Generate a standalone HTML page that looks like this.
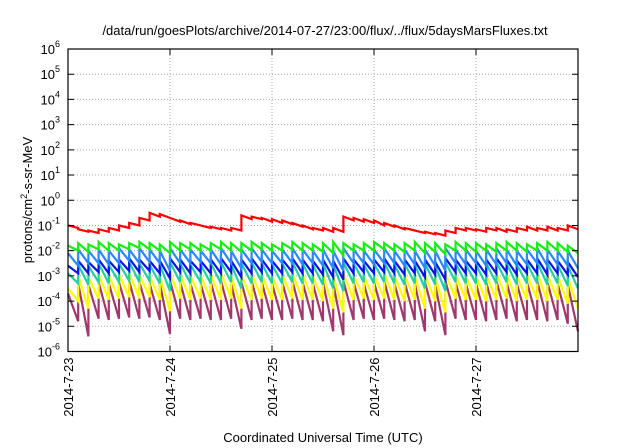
<!DOCTYPE html>
<html><head><meta charset="utf-8"><style>
body{margin:0;background:#fff;width:640px;height:448px;overflow:hidden}
svg{display:block;font-family:"Liberation Sans",sans-serif}
</style></head><body>
<svg id="chart" width="640" height="448" viewBox="0 0 640 448">
<text x="325" y="35" font-size="13" text-anchor="middle">/data/run/goesPlots/archive/2014-07-27/23:00/flux/../flux/5daysMarsFluxes.txt</text>
<g id="grid"></g><g id="series"></g><g id="axes"></g>
<text transform="translate(32,200) rotate(-90)" font-size="13" text-anchor="middle">protons/cm<tspan font-size="9" dy="-5">2</tspan><tspan dy="5">-s-sr-MeV</tspan></text>
<text x="323" y="442" font-size="13" text-anchor="middle">Coordinated Universal Time (UTC)</text>
</svg>
<script>
const dayLabels=["2014-7-23","2014-7-24","2014-7-25","2014-7-26","2014-7-27"];
const yExps=[-6,-5,-4,-3,-2,-1,0,1,2,3,4,5,6];
const cycleTimes=[0,0.1,0.2,0.3,0.4,0.5,0.6,0.7,0.8,0.9,1,1.1,1.2,1.3,1.4,1.5,1.6,1.7,1.8,1.9,2,2.1,2.2,2.3,2.4,2.5,2.6,2.7,2.8,2.9,3,3.1,3.2,3.3,3.4,3.5,3.6,3.7,3.8,3.9,4,4.1,4.2,4.3,4.4,4.5,4.6,4.7,4.8,4.9,5];
const redPeak=[-1.0,-1.15,-1.2,-1.15,-1.1,-1.0,-0.9,-0.7,-0.5,-0.55,-0.7,-0.8,-0.9,-1.0,-1.05,-1.1,-1.1,-0.6,-0.65,-0.7,-0.75,-0.8,-0.9,-1.0,-1.1,-1.1,-1.1,-0.65,-0.7,-0.75,-0.8,-0.9,-1.0,-1.1,-1.2,-1.25,-1.3,-1.2,-1.1,-1.1,-1.15,-1.1,-1.1,-1.15,-1.1,-1.05,-1.1,-1.05,-1.1,-1.0];
const redTrough=[-1.1,-1.25,-1.3,-1.25,-1.2,-1.1,-1.0,-0.8,-0.65,-0.7,-0.85,-0.95,-1.0,-1.1,-1.15,-1.2,-1.2,-0.75,-0.75,-0.85,-0.9,-0.95,-1.05,-1.15,-1.2,-1.25,-1.25,-0.8,-0.85,-0.9,-1.0,-1.05,-1.15,-1.2,-1.3,-1.35,-1.4,-1.3,-1.2,-1.2,-1.25,-1.2,-1.25,-1.25,-1.2,-1.2,-1.2,-1.2,-1.2,-1.15];
const greenPeak=[-1.8,-1.7,-1.75,-1.65,-1.7,-1.75,-1.7,-1.65,-1.7,-1.75,-1.65,-1.7,-1.7,-1.75,-1.7,-1.65,-1.7,-1.7,-1.65,-1.7,-1.75,-1.7,-1.65,-1.7,-1.75,-1.7,-1.65,-1.7,-1.75,-1.7,-1.65,-1.7,-1.75,-1.7,-1.65,-1.7,-1.7,-1.75,-1.65,-1.7,-1.7,-1.75,-1.7,-1.65,-1.7,-1.75,-1.7,-1.65,-1.7,-1.8];
const greenTrough=[-2.0,-2.05,-1.95,-2.0,-2.0,-1.95,-1.9,-1.95,-2.0,-2.1,-2.0,-1.95,-2.0,-2.0,-1.95,-2.0,-2.05,-2.0,-1.95,-2.0,-2.0,-1.95,-2.0,-2.0,-2.05,-2.1,-2.2,-2.0,-2.0,-2.0,-1.95,-2.0,-2.05,-2.0,-2.1,-2.05,-2.15,-2.0,-2.0,-2.05,-2.0,-2.05,-2.0,-2.0,-2.05,-2.0,-2.0,-2.0,-2.05,-2.1];
const lblueTrough=[-2.6,-2.5,-2.5,-2.55,-2.5,-2.4,-2.5,-2.45,-2.5,-2.8,-2.5,-2.5,-2.45,-2.5,-2.55,-2.5,-2.7,-2.5,-2.45,-2.5,-2.5,-2.5,-2.55,-2.5,-2.6,-2.7,-2.8,-2.5,-2.5,-2.55,-2.5,-2.5,-2.6,-2.55,-2.7,-2.6,-2.8,-2.5,-2.55,-2.5,-2.6,-2.55,-2.5,-2.6,-2.55,-2.5,-2.6,-2.55,-2.6,-2.7];
const lbluePeak=[-2.1,-1.95,-2.0,-1.95,-2.0,-1.9,-1.95,-1.9,-1.95,-2.0,-1.9,-1.95,-1.95,-2.0,-1.95,-1.9,-2.0,-1.95,-1.9,-1.95,-2.0,-1.95,-1.9,-1.95,-2.0,-1.95,-2.0,-1.9,-1.95,-2.0,-1.95,-1.9,-2.0,-1.95,-2.0,-1.95,-2.0,-1.9,-1.95,-1.95,-2.0,-1.95,-1.9,-1.95,-2.0,-1.95,-1.9,-1.95,-2.0,-2.0];
const bluePeak=[-2.6,-2.4,-2.45,-2.35,-2.4,-2.35,-2.3,-2.35,-2.4,-2.4,-2.3,-2.35,-2.4,-2.4,-2.35,-2.3,-2.4,-2.35,-2.3,-2.35,-2.4,-2.35,-2.3,-2.35,-2.4,-2.35,-2.4,-2.3,-2.35,-2.4,-2.35,-2.3,-2.4,-2.35,-2.4,-2.35,-2.45,-2.3,-2.35,-2.4,-2.4,-2.35,-2.3,-2.35,-2.4,-2.35,-2.3,-2.35,-2.4,-2.45];
const blueTrough=[-2.9,-2.9,-2.85,-2.9,-2.85,-2.8,-2.85,-2.8,-2.9,-3.1,-2.85,-2.9,-2.85,-2.9,-2.9,-2.85,-3.05,-2.9,-2.85,-2.9,-2.9,-2.85,-2.9,-2.9,-2.95,-3.05,-3.15,-2.9,-2.85,-2.9,-2.85,-2.9,-2.95,-2.9,-3.05,-2.95,-3.15,-2.85,-2.9,-2.9,-2.95,-2.9,-2.85,-2.95,-2.9,-2.9,-2.95,-2.9,-2.95,-3.05];
const tealPeak=[-2.9,-2.55,-2.6,-2.5,-2.55,-2.5,-2.45,-2.5,-2.55,-2.55,-2.45,-2.5,-2.55,-2.55,-2.5,-2.45,-2.55,-2.5,-2.45,-2.5,-2.55,-2.5,-2.45,-2.5,-2.55,-2.5,-2.55,-2.45,-2.5,-2.55,-2.5,-2.45,-2.55,-2.5,-2.55,-2.5,-2.6,-2.45,-2.5,-2.55,-2.55,-2.5,-2.45,-2.5,-2.55,-2.5,-2.45,-2.5,-2.55,-2.6];
const tealTrough=[-3.3,-3.35,-3.25,-3.3,-3.25,-3.2,-3.25,-3.2,-3.3,-3.6,-3.25,-3.3,-3.25,-3.3,-3.3,-3.25,-3.5,-3.3,-3.25,-3.3,-3.3,-3.25,-3.3,-3.3,-3.35,-3.5,-3.6,-3.3,-3.25,-3.3,-3.25,-3.3,-3.35,-3.3,-3.5,-3.35,-3.6,-3.25,-3.3,-3.3,-3.35,-3.3,-3.25,-3.35,-3.3,-3.3,-3.35,-3.3,-3.4,-3.5];
const yellowPeak=[-3.5,-3.0,-3.05,-2.95,-3.0,-2.95,-2.9,-2.95,-3.0,-3.0,-2.9,-2.95,-3.0,-3.0,-2.95,-2.9,-3.0,-2.95,-2.9,-2.95,-3.0,-2.95,-2.9,-2.95,-3.0,-2.95,-3.0,-2.9,-2.95,-3.0,-2.95,-2.9,-3.0,-2.95,-3.0,-2.95,-3.05,-2.9,-2.95,-3.0,-3.0,-2.95,-2.9,-2.95,-3.0,-2.95,-2.9,-2.95,-3.0,-3.05];
const yellowTrough=[-4.0,-4.3,-3.9,-3.95,-3.9,-3.85,-3.9,-3.85,-3.95,-4.4,-3.9,-3.95,-3.9,-3.95,-3.95,-3.9,-4.3,-3.95,-3.9,-3.95,-3.95,-3.9,-3.95,-3.95,-4.0,-4.3,-4.45,-3.95,-3.9,-3.95,-3.9,-3.95,-4.0,-3.95,-4.3,-4.0,-4.45,-3.9,-3.95,-3.95,-4.0,-3.95,-3.9,-4.0,-3.95,-3.95,-4.0,-3.95,-4.1,-4.3];
const purplePeak=[-3.7,-3.3,-3.35,-3.25,-3.3,-3.25,-3.2,-3.25,-3.3,-3.3,-3.2,-3.25,-3.3,-3.3,-3.25,-3.2,-3.3,-3.25,-3.2,-3.25,-3.3,-3.25,-3.2,-3.25,-3.3,-3.25,-3.3,-3.2,-3.25,-3.3,-3.25,-3.2,-3.3,-3.25,-3.3,-3.25,-3.35,-3.2,-3.25,-3.3,-3.3,-3.25,-3.2,-3.25,-3.3,-3.25,-3.2,-3.25,-3.3,-3.35];
const purpleTrough=[-4.8,-5.4,-4.7,-4.75,-4.7,-4.65,-4.7,-4.65,-4.75,-5.3,-4.7,-4.75,-4.7,-4.75,-4.75,-4.7,-5.1,-4.75,-4.7,-4.75,-4.75,-4.7,-4.75,-4.75,-4.8,-5.2,-5.35,-4.75,-4.7,-4.75,-4.7,-4.75,-4.8,-4.75,-5.2,-4.8,-5.35,-4.7,-4.75,-4.75,-4.8,-4.75,-4.7,-4.8,-4.75,-4.75,-4.8,-4.75,-4.9,-5.2];
const seriesNames=["purple","yellow","teal","blue","light-blue","green","red"];
const seriesColors=["#a0386e","#ffff00","#20d0a0","#0a14e6","#2a88ff","#12ee12","#ff0000"];
const seriesPeaks=[purplePeak,yellowPeak,tealPeak,bluePeak,lbluePeak,greenPeak,redPeak];
const seriesTroughs=[purpleTrough,yellowTrough,tealTrough,blueTrough,lblueTrough,greenTrough,redTrough];

const L=68,R=578,T=49,B=351.5,NS="http://www.w3.org/2000/svg";
const xS=d=>L+(R-L)*d/5;
const yS=e=>T+(B-T)*(6-e)/12;
function mk(tag,attrs,parent){const el=document.createElementNS(NS,tag);for(const k in attrs)el.setAttribute(k,attrs[k]);parent.appendChild(el);return el;}
const grid=document.getElementById('grid'),axes=document.getElementById('axes'),ser=document.getElementById('series');
yExps.forEach(e=>{const y=yS(e);
 if(e>-6&&e<6){const g=mk('line',{x1:L,x2:R,y1:y,y2:y,stroke:'#aaa','stroke-width':1,'stroke-dasharray':'1,2'},grid);
 
 }
 const tk=mk('path',{d:`M${L},${y}h6M${R},${y}h-6`,stroke:'#000','stroke-width':1},axes);
 
 
 const t=mk('text',{x:L-8,y:y+5,'font-size':13,'text-anchor':'end'},axes);
 
 
 t.appendChild(document.createTextNode('10'));
 const sp=mk('tspan',{'font-size':9,dy:-7},t);sp.textContent=String(e);
});
dayLabels.forEach((lab,i)=>{const x=xS(i);
 if(i>0){const g=mk('line',{x1:x,x2:x,y1:T,y2:B,stroke:'#aaa','stroke-width':1,'stroke-dasharray':'1,2'},grid);
 
 }
 const tk=mk('path',{d:`M${x},${B}v-6M${x},${T}v6`,stroke:'#000','stroke-width':1},axes);
 
 
 const t=mk('text',{transform:`translate(${x+5},${B+6}) rotate(-90)`,'font-size':13,'text-anchor':'end'},axes);
 
 
 t.textContent=lab;
});
seriesPeaks.forEach((pk,s)=>{const tr=seriesTroughs[s];let pts=[];
 for(let i=0;i<pk.length;i++){
  const e1=Math.max(-6,pk[i]),e2=Math.max(-6,tr[i]);
  pts.push(xS(cycleTimes[i])+','+yS(e1));pts.push(xS(cycleTimes[i+1])+','+yS(e2));}
 const p=mk('polyline',{points:pts.join(' '),fill:'none',stroke:seriesColors[s],'stroke-width':2.2,'stroke-linejoin':'miter'},ser);
 
 
});
const box=mk('rect',{x:L,y:T,width:R-L,height:B-T,fill:'none',stroke:'#000','stroke-width':1.2},axes);


</script>
</body></html>
